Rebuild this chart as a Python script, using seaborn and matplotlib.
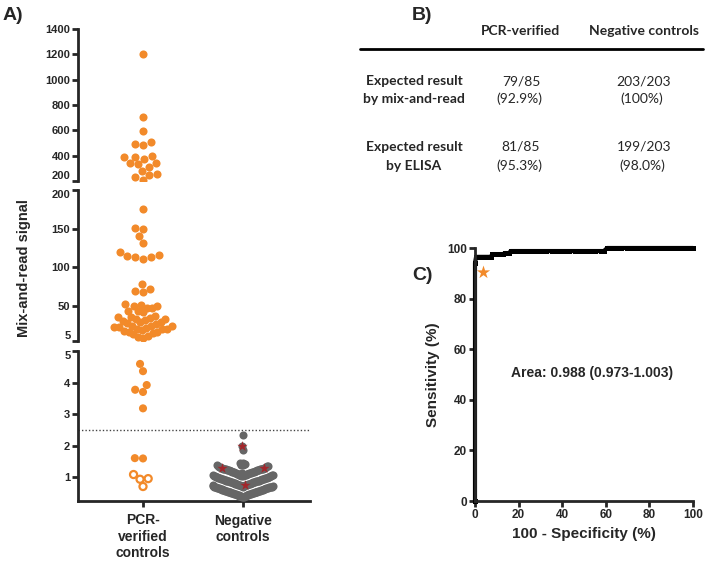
import numpy as np
import pandas as pd
import matplotlib
matplotlib.use("Agg")
import matplotlib.pyplot as plt
import seaborn as sns

# ---------------- data ----------------
groups = ["PCR-verified", "Negative"]
group_labels = ["PCR-\nverified\ncontrols", "Negative\ncontrols"]

# PCR-verified controls, split over the three segments of the broken axis
pcr_top = [1200, 705, 598, 505, 487, 492, 400, 386, 346, 333, 311, 341, 372, 391,
           280, 248, 208, 232, 253]
pcr_mid = [175, 150, 151, 140, 131, 116, 113, 111, 113, 115, 120, 78, 69, 68, 72,
           52.6, 50, 47, 43.6, 42.3, 43.6, 47, 50, 52,
           37.5, 36.5, 35.8, 35, 34, 33, 32, 31, 30, 29, 28, 27,
           25, 24.5, 24, 23, 22.5, 22, 21, 20.5, 20, 19, 18, 17,
           16, 15, 13.5, 12, 10.5, 9]
pcr_low = [4.59, 4.36, 3.92, 3.70, 3.77, 3.18, 1.59, 1.60]
pcr_open = [0.95, 1.08, 0.93, 0.70]   # drawn as open circles

# Negative controls (203)
neg_vals = [
    0.36, 0.37, 0.38, 0.39,
    0.40, 0.40, 0.41, 0.41, 0.42, 0.42, 0.43, 0.43, 0.44, 0.44,
    0.45, 0.45, 0.46, 0.46, 0.47, 0.47, 0.48, 0.48, 0.49, 0.49,
    0.50, 0.50, 0.51, 0.51, 0.52, 0.52, 0.53, 0.53, 0.54, 0.54,
    0.55, 0.55, 0.56, 0.56, 0.57, 0.57, 0.58, 0.58, 0.59, 0.59,
    0.60, 0.60, 0.61, 0.61, 0.62, 0.62, 0.63, 0.63, 0.64, 0.64,
    0.65, 0.65, 0.66, 0.66, 0.67, 0.67, 0.68, 0.68, 0.69, 0.69,
    0.70, 0.70, 0.71, 0.71, 0.72, 0.72, 0.73, 0.73, 0.74, 0.74,
    0.745, 0.75, 0.75, 0.76, 0.76, 0.77, 0.77, 0.78, 0.78, 0.79, 0.79,
    0.80, 0.80, 0.81, 0.81, 0.82, 0.82, 0.83, 0.83, 0.84, 0.84,
    0.85, 0.85, 0.86, 0.86, 0.87, 0.87, 0.88, 0.88, 0.89, 0.89,
    0.90, 0.90, 0.91, 0.91, 0.92, 0.92, 0.93, 0.93, 0.94, 0.94,
    0.95, 0.95, 0.96, 0.96, 0.97, 0.97, 0.98, 0.98, 0.99, 0.99,
    1.00, 1.00, 1.01, 1.01, 1.02, 1.02, 1.03, 1.03, 1.04, 1.04,
    1.05, 1.05, 1.06, 1.06, 1.07, 1.07, 1.08, 1.08, 1.09, 1.09,
    1.10, 1.10, 1.11, 1.11, 1.12, 1.12, 1.13, 1.13, 1.14, 1.14,
    1.15, 1.15, 1.16, 1.16, 1.17, 1.17, 1.18, 1.18, 1.19, 1.19,
    1.20, 1.20, 1.21, 1.21, 1.22, 1.22, 1.23, 1.23, 1.24, 1.24,
    1.25, 1.25, 1.26, 1.26, 1.27, 1.27, 1.275, 1.28, 1.28, 1.285,
    1.29, 1.30, 1.31, 1.32, 1.33, 1.34, 1.35, 1.36, 1.37, 1.38, 1.39, 1.40,
    1.42, 1.44, 1.46, 1.87, 1.97, 2.35,
]
neg_star = [0.745, 1.275, 1.285, 1.97]   # shown as red stars
cutoff = 2.5

# ROC curve (panel C)
roc_fpr = [0, 0, 0.5, 1.0, 2.0, 3.0, 4.4, 5.4, 6.4, 7.4, 7.9, 8.9, 9.9, 10.8, 11.8,
           12.8, 13.8, 14.8, 15.8, 16.3, 17.2, 18.2, 19.2, 20.2, 21.2, 22.2, 23.6,
           25.1, 26.6, 28.1, 29.6, 31.0, 32.5, 35.5, 37.4, 39.4, 41.4, 43.3, 45.8,
           47.8, 49.8, 51.2, 53.2, 55.2, 57.6, 59.1, 60.6, 61.6, 63.1, 65.0, 67.0,
           69.5, 71.4, 73.4, 75.4, 77.3, 79.3, 81.3, 83.3, 85.2, 87.2, 89.2, 91.1,
           93.1, 95.1, 97.0, 99.0, 100]
roc_tpr = [0, 94.1, 96.5, 96.5, 96.5, 96.5, 96.5, 96.5, 96.5, 96.5, 97.6, 97.6, 97.6,
           97.6, 97.6, 97.6, 98.0, 98.0, 98.0, 98.8, 98.8, 98.8, 98.8, 98.8, 98.8,
           98.8, 98.8, 98.8, 98.8, 98.8, 98.8, 98.8, 98.8, 98.8, 98.8, 98.8, 98.8,
           98.8, 98.8, 98.8, 98.8, 98.8, 98.8, 98.8, 98.8, 98.8, 100, 100, 100, 100,
           100, 100, 100, 100, 100, 100, 100, 100, 100, 100, 100, 100, 100, 100, 100,
           100, 100, 100]
star_fpr = [3.7]
star_tpr = [90.5]
area_text = "Area: 0.988 (0.973-1.003)"

# table (panel B)
tab_cols = ["PCR-verified", "Negative controls"]
tab_rows = [["Expected result", "by mix-and-read"], ["Expected result", "by ELISA"]]
tab_counts = [["79/85", "203/203"], ["81/85", "199/203"]]
tab_pct = [["(92.9%)", "(100%)"], ["(95.3%)", "(98.0%)"]]

# ---------------- style ----------------
orange = "#F28A2A"
gray = "#666666"
red = "#A3262B"

sns.set_style("ticks")
plt.rcParams["font.family"] = ["Liberation Sans", "DejaVu Sans"]
plt.rcParams["font.weight"] = "bold"
plt.rcParams["axes.labelweight"] = "bold"

W, H = 707, 561
fig = plt.figure(figsize=(W / 100, H / 100), dpi=100)


def px(x, y):
    return x / W, 1 - y / H


def box(x0, y0, x1, y1):
    return [x0 / W, 1 - y1 / H, (x1 - x0) / W, (y1 - y0) / H]


ax_top = fig.add_axes(box(78, 29, 310, 181))
ax_mid = fig.add_axes(box(78, 190, 310, 341))
ax_bot = fig.add_axes(box(78, 351, 310, 501))
ax_roc = fig.add_axes(box(475, 248, 693, 501))
XLIM = (-0.65, 1.67)


def swarm(ax, vals, group, color, size):
    n0 = len(ax.collections)
    df = pd.DataFrame({"group": group, "signal": vals})
    sns.swarmplot(data=df, x="group", y="signal", order=groups, color=color,
                  size=size, linewidth=0, warn_thresh=1, ax=ax)
    new = [c for c in ax.collections[n0:] if len(c.get_offsets()) > 0]
    return new[0]


# the crowded low part of the middle segment is laid out separately
mid_hi = [v for v in pcr_mid if v >= 60]
mid_lo = [v for v in pcr_mid if v < 60]

c_pcr_top = swarm(ax_top, pcr_top, groups[0], orange, 5.6)
c_mid_hi = swarm(ax_mid, mid_hi, groups[0], orange, 5.6)
c_mid_lo = swarm(ax_mid, mid_lo, groups[0], orange, 5.8)
c_pcr_low = swarm(ax_bot, pcr_low + pcr_open, groups[0], orange, 5.6)
c_neg = swarm(ax_bot, neg_vals, groups[1], gray, 8.6)

# axes of panel A
limits = [(ax_top, (200, 1400), [200, 400, 600, 800, 1000, 1200, 1400]),
          (ax_mid, (5, 200), [5, 50, 100, 150, 200]),
          (ax_bot, (0.24, 5), [1, 2, 3, 4, 5])]
for ax, lim, ticks in limits:
    ax.set_xlim(*XLIM)
    ax.set_ylim(*lim)
    ax.set_yticks(ticks)
    ax.set_ylabel("")
    ax.set_xlabel("")
    sns.despine(ax=ax)
    ax.spines["left"].set_linewidth(2)
    ax.spines["bottom"].set_linewidth(2)
    ax.tick_params(axis="y", width=2, length=4, pad=1.5, labelsize=8)
    ax.patch.set_alpha(0)
    if ax is not ax_bot:
        ax.spines["bottom"].set_visible(False)
        ax.tick_params(axis="x", bottom=False, labelbottom=False)

# keep the labels at the break apart
ax_top.get_yticklabels()[0].set_va("bottom")
ax_mid.get_yticklabels()[-1].set_va("top")
ax_mid.get_yticklabels()[0].set_va("bottom")
ax_bot.get_yticklabels()[-1].set_va("top")

ax_bot.set_xticks([0, 1])
ax_bot.set_xticklabels(group_labels, fontsize=10, linespacing=1.2)
ax_bot.tick_params(axis="x", width=2, length=4, pad=5)
ax_bot.axhline(cutoff, color="#444444", lw=1, ls=(0, (1, 1.5)), zorder=0)

fig.text(*px(24, 268), "Mix-and-read signal", rotation=90, ha="center", va="center",
         fontsize=10.5, fontweight="bold")

# panel C: ROC
sns.lineplot(x=roc_fpr, y=roc_tpr, sort=False, estimator=None, color="black", lw=3,
             marker="s", markersize=3.6, markeredgewidth=0, ax=ax_roc)
ax_roc.lines[-1].set_clip_on(False)
ax_roc.scatter(star_fpr, star_tpr, marker="*", s=100, color=orange, linewidths=0,
               zorder=5, clip_on=False)
ax_roc.set_xlim(0, 100)
ax_roc.set_ylim(0, 100)
ax_roc.set_xticks([0, 20, 40, 60, 80, 100])
ax_roc.set_yticks([0, 20, 40, 60, 80, 100])
sns.despine(ax=ax_roc)
for s in ["left", "bottom"]:
    ax_roc.spines[s].set_linewidth(2)
ax_roc.tick_params(width=2, length=4, pad=2, labelsize=8.5)
ax_roc.set_xlabel("100 - Specificity (%)", fontsize=11, labelpad=4)
ax_roc.set_ylabel("Sensitivity (%)", fontsize=11, labelpad=5)
ax_roc.text(53.7, 50.6, area_text, ha="center", va="center", fontsize=10)

# panel B: table
tfont = ["Lato", "DejaVu Sans"]
col_x = [521, 644]
fig.text(*px(col_x[0], 31), tab_cols[0], ha="center", va="center", fontsize=10,
         family=tfont, fontweight="bold")
fig.text(*px(col_x[1], 31), tab_cols[1], ha="center", va="center", fontsize=10,
         family=tfont, fontweight="bold")
fig.add_artist(plt.Line2D([360 / W, 703 / W], [1 - 49 / H] * 2, color="black", lw=2))
row_y = [(81, 99), (147, 166)]
for i, (y1, y2) in enumerate(row_y):
    fig.text(*px(414, y1), tab_rows[i][0], ha="center", va="center", fontsize=10,
             family=tfont, fontweight="bold")
    fig.text(*px(414, y2), tab_rows[i][1], ha="center", va="center", fontsize=10,
             family=tfont, fontweight="bold")
    for j in range(2):
        fig.text(*px(col_x[j], y1), tab_counts[i][j], ha="center", va="center",
                 fontsize=10, family=tfont, fontweight="normal")
        fig.text(*px(col_x[j] - 2, y2), tab_pct[i][j], ha="center", va="center",
                 fontsize=10, family=tfont, fontweight="normal")

# panel letters
fig.text(*px(3, 15), "A)", fontsize=14, fontweight="bold", va="center")
fig.text(*px(412, 15), "B)", fontsize=14, fontweight="bold", va="center")
fig.text(*px(412, 275), "C)", fontsize=14, fontweight="bold", va="center")


def freeze(coll):
    # keep the swarm positions computed so far
    if "draw" in coll.__dict__:
        del coll.draw


def squeeze(ax, center, k):
    # stretch x while laying out, so dots overlap sideways in rows afterwards
    ax.set_xlim(center + (XLIM[0] - center) / k, center + (XLIM[1] - center) / k)


# pass 1: plain swarms
fig.canvas.draw()
for c in (c_pcr_top, c_mid_hi, c_pcr_low):
    freeze(c)

# pass 2: crowded groups laid out with sideways overlap, like the original
squeeze(ax_mid, 0, 1.7)
squeeze(ax_bot, 1, 14.0)
fig.canvas.draw()
freeze(c_mid_lo)
freeze(c_neg)
ax_mid.set_xlim(*XLIM)
ax_bot.set_xlim(*XLIM)

for c in (c_pcr_top, c_mid_hi, c_mid_lo, c_pcr_low, c_neg):
    c.set_sizes([34])

# open circles among the PCR-verified low values
off = c_pcr_low.get_offsets()
is_open = np.isin(np.round(off[:, 1], 3), np.round(pcr_open, 3))
fc = np.array([matplotlib.colors.to_rgba("white" if o else orange) for o in is_open])
c_pcr_low.set_facecolors(fc)
c_pcr_low.set_edgecolors(orange)
c_pcr_low.set_linewidths(np.where(is_open, 1.6, 0))
c_pcr_low.set_sizes(np.where(is_open, 26, 34))

# red stars among the negative controls
off = c_neg.get_offsets()
is_star = np.isin(np.round(off[:, 1], 3), np.round(neg_star, 3))
ax_bot.scatter(off[is_star, 0], off[is_star, 1], marker="*", s=60, color=red,
               linewidths=0, zorder=5)

fig.savefig("out.png", dpi=100)
